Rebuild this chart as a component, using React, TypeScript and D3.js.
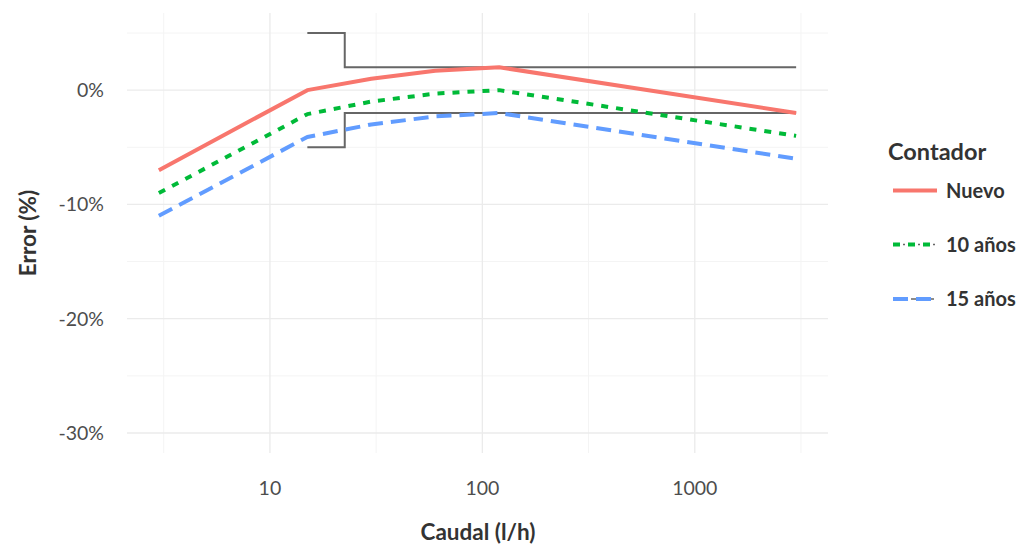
import React from "react";
import * as d3 from "d3";

const flows = [3, 15, 30, 60, 120, 3000];
const nuevo = [-7, 0, 1, 1.7, 2, -2];
const diez = [-9, -2.1, -1, -0.3, 0, -4];
const quince = [-11, -4.1, -3, -2.3, -2, -6];
const seriesNames = ["Nuevo", "10 años", "15 años"];
const seriesColors = ["#F8766D", "#00BA38", "#619CFF"];
const seriesDash = [null, "7,8", "15,8"];
const greyDash = [null, "2,3", "5,4"];

const upperLimitX = [15, 22.5, 22.5, 3000];
const upperLimitY = [5, 5, 2, 2];
const lowerLimitX = [15, 22.5, 22.5, 3000];
const lowerLimitY = [-5, -5, -2, -2];

const xMajor = [10, 100, 1000];
const xMinor = [Math.sqrt(10), Math.sqrt(1000), Math.sqrt(100000), Math.sqrt(10000000)];
const yMajor = [0, -10, -20, -30];
const yMinor = [5, -5, -15, -25];

const W = 1019;
const H = 545;
const FONT = "Lato, 'Open Sans', sans-serif";

export default function App() {
  const panel = { left: 127, right: 828, top: 13, bottom: 453 };
  const lx = [Math.log10(3), Math.log10(3000)];
  const ex = (lx[1] - lx[0]) * 0.05;
  const x = d3
    .scaleLog()
    .domain([Math.pow(10, lx[0] - ex), Math.pow(10, lx[1] + ex)])
    .range([panel.left, panel.right]);
  const y = d3.scaleLinear().domain([-31.75, 6.75]).range([panel.bottom, panel.top]);

  const line = d3
    .line<[number, number]>()
    .x((d) => x(d[0]))
    .y((d) => y(d[1]));

  const series = [nuevo, diez, quince];
  const lim = (xs: number[], ys: number[]) => line(xs.map((v, i) => [v, ys[i]] as [number, number])) || "";

  const legendX = 893;
  const legendKeyW = 44;
  const legendYs = [190.5, 244.5, 299];

  return (
    <svg
      width={W}
      height={H}
      style={{ position: "absolute", left: 0, top: 0, background: "#fff" }}
      fontFamily={FONT}
    >
      <rect x={0} y={0} width={W} height={H} fill="#fff" />
      {/* minor grid */}
      {xMinor.map((v) => (
        <line key={"xm" + v} x1={x(v)} x2={x(v)} y1={panel.top} y2={panel.bottom} stroke="#F4F4F4" strokeWidth={1} />
      ))}
      {yMinor.map((v) => (
        <line key={"ym" + v} x1={panel.left} x2={panel.right} y1={y(v)} y2={y(v)} stroke="#F4F4F4" strokeWidth={1} />
      ))}
      {/* major grid */}
      {xMajor.map((v) => (
        <line key={"xM" + v} x1={x(v)} x2={x(v)} y1={panel.top} y2={panel.bottom} stroke="#EBEBEB" strokeWidth={1.3} />
      ))}
      {yMajor.map((v) => (
        <line key={"yM" + v} x1={panel.left} x2={panel.right} y1={y(v)} y2={y(v)} stroke="#EBEBEB" strokeWidth={1.3} />
      ))}

      {/* limit lines */}
      <path d={lim(upperLimitX, upperLimitY)} fill="none" stroke="#666666" strokeWidth={2} />
      <path d={lim(lowerLimitX, lowerLimitY)} fill="none" stroke="#666666" strokeWidth={2} />

      {/* series */}
      {series.map((s, i) => (
        <path
          key={seriesNames[i]}
          d={line(flows.map((f, j) => [f, s[j]] as [number, number])) || ""}
          fill="none"
          stroke={seriesColors[i]}
          strokeWidth={4}
          strokeDasharray={seriesDash[i] || undefined}
          strokeLinejoin="round"
        />
      ))}

      {/* y tick labels */}
      {yMajor.map((v) => (
        <text key={"yl" + v} x={104} y={y(v)} dy="0.35em" textAnchor="end" fontSize={19.5} fill="#4D4D4D">
          {v + "%"}
        </text>
      ))}
      {/* x tick labels */}
      {xMajor.map((v) => (
        <text key={"xl" + v} x={x(v)} y={495} textAnchor="middle" fontSize={19.5} fill="#4D4D4D">
          {String(v)}
        </text>
      ))}

      {/* axis titles */}
      <text x={478} y={540} textAnchor="middle" fontSize={22.5} fontWeight="bold" fill="#333">
        Caudal (l/h)
      </text>
      <text
        transform={`translate(36, ${(panel.top + panel.bottom) / 2}) rotate(-90)`}
        textAnchor="middle"
        fontSize={22.5}
        fontWeight="bold"
        fill="#333"
      >
        Error (%)
      </text>

      {/* legend */}
      <text x={888} y={160} fontSize={23.5} fontWeight="bold" fill="#333">
        Contador
      </text>
      {seriesNames.map((n, i) => (
        <g key={"lg" + n}>
          <line
            x1={legendX}
            x2={legendX + legendKeyW}
            y1={legendYs[i]}
            y2={legendYs[i]}
            stroke="#666666"
            strokeWidth={1.5}
            strokeDasharray={greyDash[i] || undefined}
          />
          <line
            x1={legendX}
            x2={legendX + legendKeyW}
            y1={legendYs[i]}
            y2={legendYs[i]}
            stroke={seriesColors[i]}
            strokeWidth={4}
            strokeDasharray={seriesDash[i] || undefined}
          />
          <text x={946} y={legendYs[i]} dy="0.35em" fontSize={20} fontWeight="bold" fill="#333">
            {n}
          </text>
        </g>
      ))}
    </svg>
  );
}
